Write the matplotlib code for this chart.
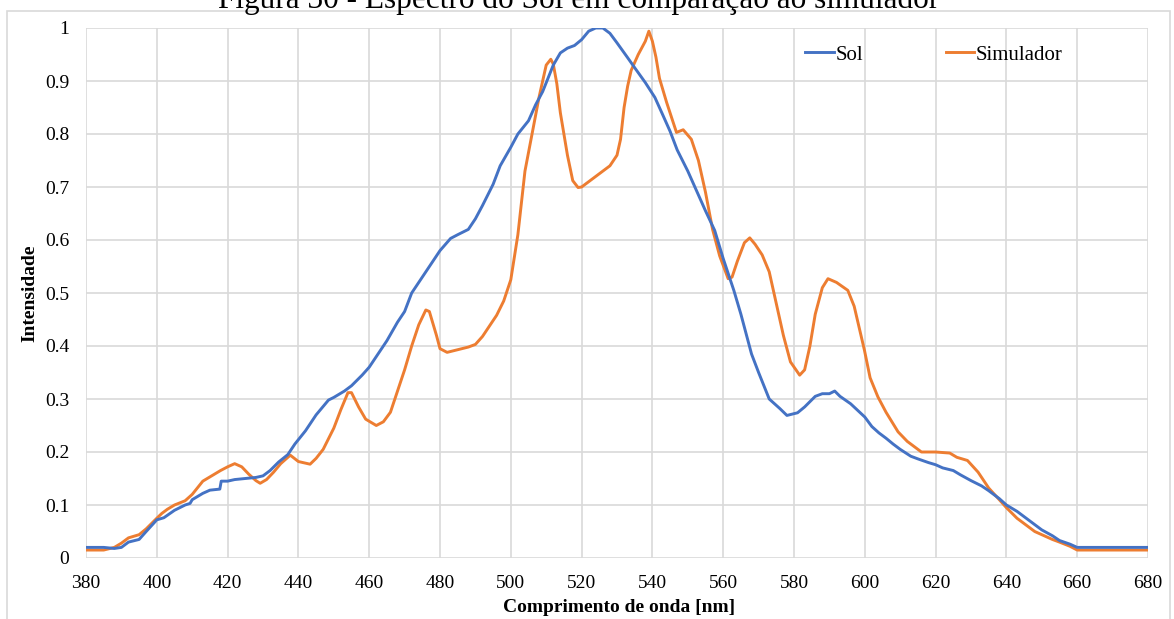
import matplotlib
matplotlib.use("Agg")
import matplotlib.pyplot as plt
from matplotlib.patches import Rectangle

plt.rcParams['font.family'] = ['Liberation Serif', 'DejaVu Serif']

# Sol (blue)
sol_nm = [380, 385, 388, 390, 392, 395, 397, 400, 402, 405, 408, 409.4, 410, 413, 415, 417.8,
          418.2, 420, 422, 425, 428, 430, 432, 434.4, 437, 439, 442, 445, 448.5, 450, 453, 455,
          458, 460, 462, 465, 468, 470, 472, 475, 478, 480, 483, 485, 488, 490, 492, 495, 497,
          500, 502, 505, 507, 509, 512, 514, 516, 518, 520, 522, 524, 526, 528, 530, 533, 535,
          538, 540.7, 543, 545, 547, 550, 552, 555, 557.6, 560, 563, 565, 568, 570, 573, 576,
          578, 581, 583, 586, 588, 590, 591.5, 593, 596, 600, 602, 604, 606, 608, 610, 613,
          615, 618, 620, 622, 625, 627, 630, 633, 635, 638, 640, 643, 645, 648, 650, 653, 655,
          658, 660, 680]
sol_val = [0.020, 0.020, 0.018, 0.020, 0.030, 0.035, 0.050, 0.072, 0.076, 0.090, 0.100, 0.103, 0.110,
           0.122, 0.128, 0.130, 0.145, 0.145, 0.148, 0.150, 0.152, 0.155, 0.165, 0.181, 0.195, 0.215,
           0.240, 0.270, 0.298, 0.303, 0.315, 0.325, 0.345, 0.360, 0.380, 0.410, 0.445, 0.465, 0.500,
           0.530, 0.560, 0.580, 0.603, 0.610, 0.620, 0.640, 0.665, 0.705, 0.740, 0.775, 0.800, 0.825,
           0.855, 0.880, 0.930, 0.953, 0.962, 0.967, 0.978, 0.994, 1.000, 1.000, 0.990, 0.972, 0.944,
           0.925, 0.897, 0.869, 0.835, 0.805, 0.770, 0.730, 0.700, 0.655, 0.618, 0.565, 0.505, 0.460,
           0.385, 0.350, 0.300, 0.282, 0.269, 0.274, 0.285, 0.305, 0.310, 0.310, 0.315, 0.305, 0.291,
           0.266, 0.248, 0.236, 0.226, 0.215, 0.205, 0.192, 0.187, 0.180, 0.176, 0.170, 0.165, 0.157,
           0.146, 0.136, 0.127, 0.112, 0.100, 0.088, 0.078, 0.063, 0.053, 0.042, 0.033, 0.026, 0.020,
           0.020]

# Simulador (orange)
sim_nm = [380, 385, 388, 390, 392, 395, 397, 400, 401.4, 403, 405, 408, 410, 413, 415, 418,
          420, 422, 424, 426, 428, 429.2, 431, 433, 435, 437.7, 440, 443.3, 445, 447, 450, 452,
          454, 455, 457, 459, 462, 464, 466, 468, 470, 472, 474, 476, 477, 479, 480, 482, 485,
          488, 490, 492, 494, 496, 498, 500, 502, 504, 506, 508, 510, 511.3, 512, 513, 514, 516,
          517.5, 519, 520, 522, 525, 528, 530, 531, 532, 533, 534, 536, 538, 539, 540, 541, 542,
          544, 546.8, 548.7, 551, 553, 555, 557, 559, 561.4, 562.5, 564, 566, 567.5, 569, 571,
          573, 575, 577, 579, 581.6, 583, 584.5, 586, 588, 589.6, 592, 595.2, 597, 599.9, 601.5,
          603.7, 606, 609.4, 612, 616, 620, 624, 626, 629, 632, 635, 638, 640, 643, 645, 648, 650,
          653, 655, 658, 660, 680]
sim_val = [0.015, 0.015, 0.020, 0.028, 0.038, 0.044, 0.055, 0.075, 0.084, 0.092, 0.100, 0.108, 0.120,
           0.145, 0.153, 0.165, 0.172, 0.178, 0.172, 0.158, 0.146, 0.141, 0.148, 0.162, 0.178, 0.194,
           0.182, 0.177, 0.188, 0.205, 0.245, 0.280, 0.312, 0.312, 0.285, 0.262, 0.250, 0.257, 0.275,
           0.315, 0.355, 0.400, 0.440, 0.468, 0.465, 0.420, 0.395, 0.388, 0.393, 0.398, 0.403, 0.418,
           0.438, 0.458, 0.485, 0.525, 0.610, 0.730, 0.800, 0.870, 0.930, 0.941, 0.932, 0.895, 0.840,
           0.760, 0.712, 0.699, 0.700, 0.710, 0.725, 0.740, 0.760, 0.790, 0.850, 0.890, 0.920, 0.950,
           0.975, 0.994, 0.975, 0.945, 0.905, 0.860, 0.803, 0.808, 0.790, 0.750, 0.690, 0.620, 0.570,
           0.527, 0.530, 0.560, 0.595, 0.604, 0.592, 0.572, 0.540, 0.480, 0.420, 0.370, 0.345, 0.355,
           0.400, 0.460, 0.510, 0.527, 0.520, 0.505, 0.475, 0.392, 0.340, 0.304, 0.275, 0.238, 0.220,
           0.200, 0.200, 0.198, 0.190, 0.184, 0.162, 0.132, 0.110, 0.095, 0.075, 0.065, 0.050, 0.044,
           0.035, 0.030, 0.022, 0.015, 0.015]

x_ticks = list(range(380, 681, 20))
y_ticks = [0, 0.1, 0.2, 0.3, 0.4, 0.5, 0.6, 0.7, 0.8, 0.9, 1]
y_ticklabels = ['0', '0.1', '0.2', '0.3', '0.4', '0.5', '0.6', '0.7', '0.8', '0.9', '1']

W, H = 1174, 619
fig = plt.figure(figsize=(W / 100, H / 100), dpi=100)
ax = fig.add_axes([86 / W, (H - 558) / H, (1148 - 86) / W, (558 - 28) / H])

ax.plot(sim_nm, sim_val, color='#ED7D31', lw=2.1, label='Simulador', zorder=3)
ax.plot(sol_nm, sol_val, color='#4472C4', lw=2.1, label='Sol', zorder=3)

ax.set_xlim(380, 680)
ax.set_ylim(0, 1)
ax.set_xticks(x_ticks)
ax.set_yticks(y_ticks)
ax.set_yticklabels(y_ticklabels)
ax.tick_params(length=0, labelsize=14)
ax.tick_params(axis='x', pad=12)
ax.tick_params(axis='y', pad=12)
ax.grid(True, color='#D9D9D9', lw=1.2)
ax.set_axisbelow(True)
for s in ax.spines.values():
    s.set_visible(False)

h, l = ax.get_legend_handles_labels()
ax.legend(h[::-1], l[::-1], loc='center left', ncol=2, frameon=False, fontsize=15,
          handlelength=1.35, handletextpad=0.1, columnspacing=3.95, borderpad=0,
          bbox_to_anchor=(795 / W, 1 - 55 / H), bbox_transform=fig.transFigure)

fig.text(619 / W, 1 - 607 / H, 'Comprimento de onda [nm]', ha='center', va='center',
         fontsize=14, fontweight='bold')
fig.text(30 / W, 1 - 293 / H, 'Intensidade', ha='center', va='center', rotation=90,
         fontsize=14, fontweight='bold')
fig.text(579 / W, 1 - 8 / H, 'Figura 30 - Espectro do Sol em comparação ao simulador',
         ha='center', va='baseline', fontsize=22.5)

fig.patches.append(Rectangle((7 / W, -0.05), (1170 - 7) / W, 1 - 10.5 / H + 0.05,
                             transform=fig.transFigure, fill=False, edgecolor='#D9D9D9', lw=1.2))

fig.savefig('out.png', dpi=100)
